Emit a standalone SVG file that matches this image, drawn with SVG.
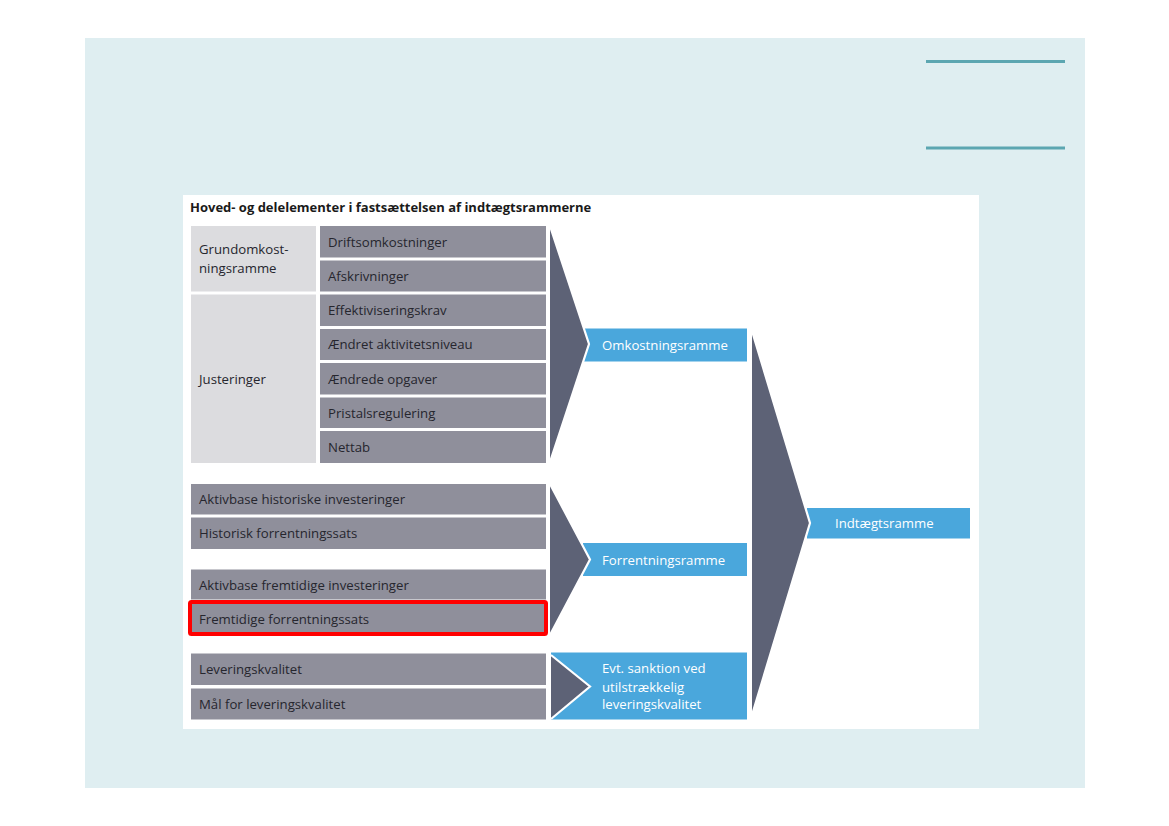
<svg xmlns="http://www.w3.org/2000/svg" width="1169" height="826" viewBox="0 0 1169 826">
<style>
.t{font-family:"Open Sans","Liberation Sans",sans-serif;font-size:13.2px;fill:#26262e}
.w{font-family:"Open Sans","Liberation Sans",sans-serif;font-size:13.2px;fill:#ffffff}
.lg{fill:#dcdcdf}
.dg{fill:#8f8f9b}
.bl{fill:#4aa7dc}
.ar{fill:#5d6276}
.ed{fill:none;stroke:#ffffff;stroke-width:2.2;stroke-linejoin:miter;stroke-miterlimit:10}
.tl{stroke:#5ca6b1;stroke-width:3}
</style>
<rect x="0" y="0" width="1169" height="826" fill="#ffffff"/>
<rect x="85" y="38" width="1000" height="750" fill="#dfeef1"/>
<line class="tl" x1="926" y1="61.5" x2="1065" y2="61.5"/>
<line class="tl" x1="926" y1="148" x2="1065" y2="148"/>
<rect x="183" y="195" width="796" height="534" fill="#ffffff"/>
<text x="190" y="212" style="font-family:'Open Sans','Liberation Sans',sans-serif;font-size:13px;font-weight:bold;fill:#1a1a1a">Hoved- og delelementer i fastsættelsen af indtægtsrammerne</text>

<g id="grundomkostningsramme"><rect class="lg" x="191" y="226" width="125" height="65.5"/><text class="t" x="199" y="254">Grundomkost-</text><text class="t" x="199" y="273">ningsramme</text></g>
<g id="justeringer"><rect class="lg" x="191" y="294.5" width="125" height="168.5"/><text class="t" x="199" y="384">Justeringer</text></g>

<g id="driftsomkostninger"><rect class="dg" x="320" y="226" width="226" height="31.5"/><text class="t" x="328" y="246.5">Driftsomkostninger</text></g>
<g id="afskrivninger"><rect class="dg" x="320" y="260.5" width="226" height="31"/><text class="t" x="328" y="280.5">Afskrivninger</text></g>
<g id="effektiviseringskrav"><rect class="dg" x="320" y="294.5" width="226" height="31.5"/><text class="t" x="328" y="315">Effektiviseringskrav</text></g>
<g id="aendret-aktivitetsniveau"><rect class="dg" x="320" y="329" width="226" height="31"/><text class="t" x="328" y="349">Ændret aktivitetsniveau</text></g>
<g id="aendrede-opgaver"><rect class="dg" x="320" y="363" width="226" height="31.5"/><text class="t" x="328" y="383.5">Ændrede opgaver</text></g>
<g id="pristalsregulering"><rect class="dg" x="320" y="397.5" width="226" height="30.5"/><text class="t" x="328" y="417.5">Pristalsregulering</text></g>
<g id="nettab"><rect class="dg" x="320" y="431" width="226" height="32"/><text class="t" x="328" y="451.5">Nettab</text></g>

<g id="aktivbase-historiske"><rect class="dg" x="191" y="484" width="355" height="30.5"/><text class="t" x="199" y="504">Aktivbase historiske investeringer</text></g>
<g id="historisk-forrentningssats"><rect class="dg" x="191" y="517.5" width="355" height="31.5"/><text class="t" x="199" y="538">Historisk forrentningssats</text></g>
<g id="aktivbase-fremtidige"><rect class="dg" x="191" y="569.5" width="355" height="30"/><text class="t" x="199" y="590">Aktivbase fremtidige investeringer</text></g>
<g id="fremtidige-forrentningssats"><rect class="dg" x="191" y="603" width="355" height="31"/><text class="t" x="199" y="624">Fremtidige forrentningssats</text><rect x="190" y="602" width="356" height="32" fill="none" stroke="#ff0000" stroke-width="4" rx="1.5"/></g>
<g id="leveringskvalitet"><rect class="dg" x="191" y="653.5" width="355" height="31.5"/><text class="t" x="199" y="674">Leveringskvalitet</text></g>
<g id="maal-for-leveringskvalitet"><rect class="dg" x="191" y="688.5" width="355" height="31"/><text class="t" x="199" y="708.5">Mål for leveringskvalitet</text></g>

<g id="omkostningsramme"><rect class="bl" x="584" y="328.5" width="163" height="33"/><text class="w" x="602" y="350">Omkostningsramme</text></g>
<g id="forrentningsramme"><rect class="bl" x="583" y="543" width="164" height="33"/><text class="w" x="602" y="564.5">Forrentningsramme</text></g>
<g id="evt-sanktion"><rect class="bl" x="551" y="652.5" width="196" height="67"/><text class="w" x="602" y="673">Evt. sanktion ved</text><text class="w" x="602" y="691.5">utilstrækkelig</text><text class="w" x="602" y="709">leveringskvalitet</text></g>
<g id="indtaegtsramme"><rect class="bl" x="807" y="508" width="163" height="30.5"/><text class="w" x="835" y="528">Indtægtsramme</text></g>

<g id="connectors">
<polygon class="ar" points="550,226 589,344 550,462"/>
<polyline class="ed" points="550,226 589,344 550,462"/>
<polygon class="ar" points="550,484 590,559.5 550,635"/>
<polyline class="ed" points="550,484 590,559.5 550,635"/>
<polygon class="ar" points="551,655 590,686.5 551,719"/>
<polyline class="ed" points="551,655 590,686.5 551,719"/>
<polygon class="ar" points="752,331 810,523 752,715"/>
<polyline class="ed" points="752,331 810,523 752,715"/>
</g>
</svg>
